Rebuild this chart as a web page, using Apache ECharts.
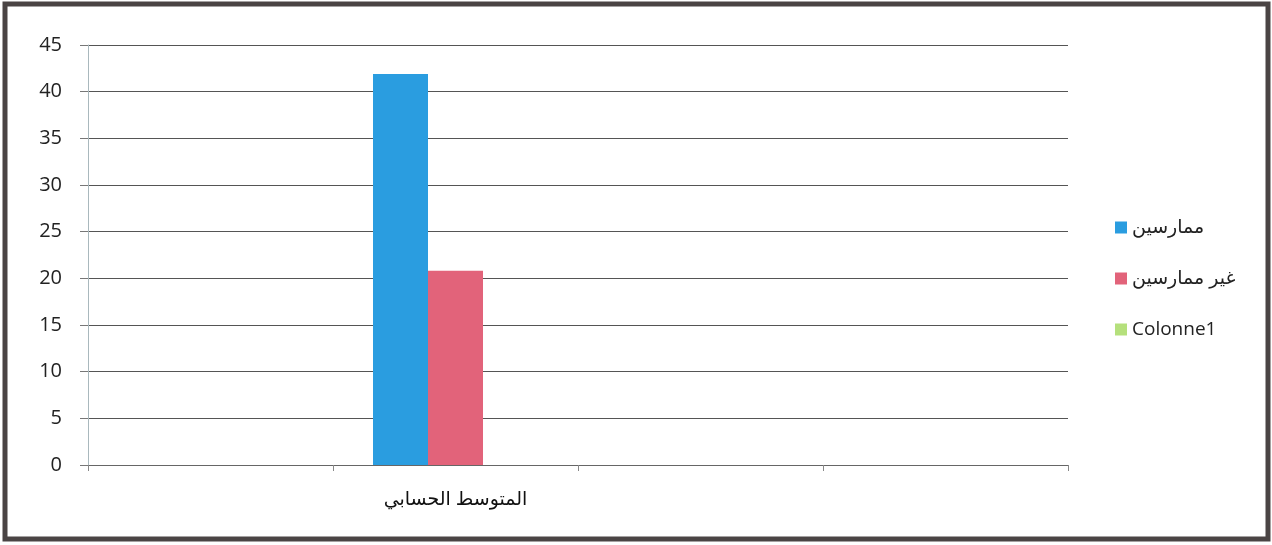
<!DOCTYPE html>
<html>
<head>
<meta charset="utf-8">
<script src="https://cdn.jsdelivr.net/npm/echarts@6/dist/echarts.min.js"></script>
<style>
  html, body { margin: 0; padding: 0; background: #fff; }
  #chart { width: 1272px; height: 545px; }
</style>
</head>
<body>
<div id="chart"></div>
<script>
// categories on the x axis (only the second one is labelled)
const categories = ['', 'المتوسط الحسابي', '', '']
// series values
const practitioners = [null, 41.9, null, null]     // ممارسين
const nonPractitioners = [null, 20.8, null, null]  // غير ممارسين
const colonne1 = [null, null, null, null]          // Colonne1 (empty)
const seriesNames = ['ممارسين', 'غير ممارسين', 'Colonne1']
const seriesColors = ['#2a9de0', '#e2637a', '#b5e07c']
// y axis ticks
const yMin = 0
const yMax = 45
const yStep = 5

const font = '"Open Sans", "DejaVu Sans", sans-serif'

const chart = echarts.init(document.getElementById('chart'))

function barSeries(name, data, color) {
  return {
    name: name,
    type: 'bar',
    data: data,
    barWidth: 55,
    barGap: '0%',
    itemStyle: { color: color },
  }
}

chart.setOption({
  animation: false,
  backgroundColor: '#fff',
  color: seriesColors,
  grid: { left: 88, right: 204, top: 45, bottom: 80 },
  legend: {
    orient: 'vertical',
    left: 1110,
    top: 213,
    itemWidth: 12,
    itemHeight: 12,
    itemGap: 32,
    icon: 'rect',
    textStyle: { fontFamily: font, fontSize: 19, color: '#222' },
    data: seriesNames,
  },
  xAxis: {
    type: 'category',
    data: categories,
    axisLine: { lineStyle: { color: '#666', width: 1 } },
    axisTick: { show: true, length: 6, lineStyle: { color: '#888' } },
    axisLabel: { margin: 25, fontFamily: font, fontSize: 19, color: '#111' },
    splitLine: { show: false },
  },
  yAxis: {
    type: 'value',
    min: yMin,
    max: yMax,
    interval: yStep,
    axisLine: { show: true, lineStyle: { color: '#a9b8bd', width: 1 } },
    axisTick: { show: true, length: 8, lineStyle: { color: '#777' } },
    axisLabel: { margin: 26, fontFamily: font, fontSize: 20, color: '#222' },
    splitLine: { lineStyle: { color: '#555', width: 1 } },
  },
  series: [
    barSeries(seriesNames[0], practitioners, seriesColors[0]),
    barSeries(seriesNames[1], nonPractitioners, seriesColors[1]),
    barSeries(seriesNames[2], colonne1, seriesColors[2]),
  ],
  graphic: [
    {
      type: 'rect',
      shape: { x: 5, y: 4, width: 1263, height: 535 },
      style: { fill: 'none', stroke: '#4a4444', lineWidth: 5 },
      silent: true,
    },
  ],
})
</script>
</body>
</html>
